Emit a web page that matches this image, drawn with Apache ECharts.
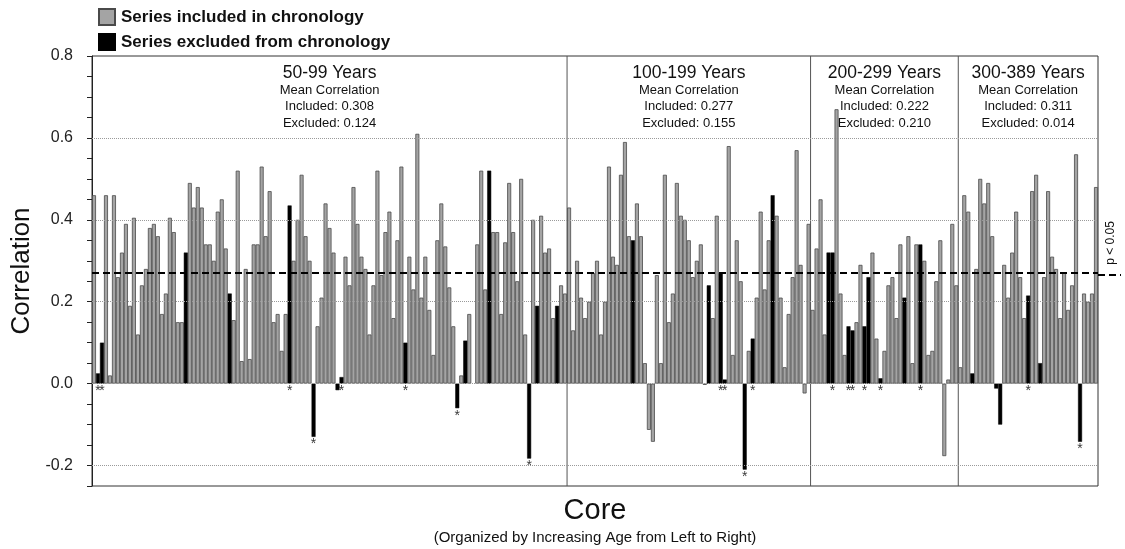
<!DOCTYPE html>
<html>
<head>
<meta charset="utf-8">
<script src="https://cdn.jsdelivr.net/npm/echarts@6/dist/echarts.min.js"></script>
<style>
html,body{margin:0;padding:0;background:#fff;}
#chart{width:1125px;height:549px;}
</style>
</head>
<body>
<div id="chart"></div>
<script>
// ---- DATA ----
// Section 1: 50-99 years (119 cores)
const sec1Values = [0.46,0.025,0.10,0.46,0.02,0.46,0.26,0.32,0.39,0.19,0.405,0.12,0.24,0.28,0.38,0.39,0.36,0.17,0.22,0.405,0.37,0.15,0.15,0.32,
  0.49,0.43,0.48,0.43,0.34,0.34,0.30,0.42,0.45,0.33,0.22,0.155,0.52,0.055,0.28,0.06,0.34,0.34,0.53,0.36,0.47,0.15,0.17,0.08,
  0.17,0.435,0.30,0.40,0.51,0.36,0.30,-0.13,0.14,0.21,0.44,0.38,0.32,-0.016,0.016,0.31,0.24,0.48,0.39,0.31,0.28,0.12,0.24,
  0.52,0.265,0.37,0.42,0.16,0.35,0.53,0.10,0.31,0.23,0.61,0.21,0.31,0.18,0.07,0.35,0.44,0.335,0.235,0.14,-0.06,0.02,0.105,0.17,
  null,0.34,0.52,0.23,0.52,0.37,0.37,0.17,0.345,0.49,0.37,0.25,0.50,0.12,-0.183,0.40,0.19,0.41,0.32,0.33,0.16,0.19,0.24,0.22];
const sec1Excluded = [2,3,24,35,50,56,62,63,79,92,94,100,110,112,117];
const sec1Starred  = [2,3,50,56,63,79,92,110];

// Section 2: 100-199 years (61 cores)
const sec2Values = [0.43,0.13,0.30,0.21,0.16,0.20,0.27,0.30,0.12,0.20,
  0.53,0.31,0.29,0.51,0.59,0.36,0.35,0.44,0.36,0.05,
  -0.113,-0.142,0.265,0.05,
  0.51,0.15,0.22,0.49,0.41,0.40,0.35,0.26,0.30,0.34,
  -0.003,0.24,0.16,0.41,0.27,0.01,0.58,0.07,0.35,0.25,
  -0.21,0.08,0.11,0.21,
  0.42,0.23,0.35,0.46,0.41,0.21,0.04,0.17,0.26,0.57,
  0.29,-0.024,0.39];
const sec2Excluded = [17,36,39,40,45,47,52];
const sec2Starred  = [39,40,45,47];

// Section 3: 200-299 years (37 cores)
const sec3Values = [0.18,0.33,0.45,0.12,0.32,0.32,0.67,0.22,0.07,0.14,
  0.13,0.15,0.29,0.14,0.26,0.32,0.11,0.013,0.08,0.24,
  0.26,0.16,0.34,0.21,0.36,0.05,0.34,0.34,0.30,0.07,
  0.08,0.25,0.35,-0.177,0.01,0.39,0.24];
const sec3Excluded = [5,6,10,11,14,15,18,24,28];
const sec3Starred  = [6,10,11,14,18,28];

// Section 4: 300-389 years (35 cores)
const sec4Values = [0.04,0.46,0.42,0.025,0.28,0.50,0.44,0.49,0.36,-0.012,
  -0.10,0.29,0.21,0.32,0.42,0.26,0.16,0.215,0.47,0.51,
  0.05,0.26,0.47,0.31,0.28,0.16,0.27,0.18,0.24,0.56,
  -0.142,0.22,0.20,0.22,0.48];
const sec4Excluded = [4,10,11,18,21,31];
const sec4Starred  = [18,31];

const sectionNames = ['50-99 Years','100-199 Years','200-299 Years','300-389 Years'];
const meanIncluded = ['0.308','0.277','0.222','0.311'];
const meanExcluded = ['0.124','0.155','0.210','0.014'];
const pThreshold = 0.265;
const yTicks = [0.8,0.6,0.4,0.2,0.0,-0.2];

// ---- BUILD ----
const secValues = [sec1Values,sec2Values,sec3Values,sec4Values];
const secExcl = [sec1Excluded,sec2Excluded,sec3Excluded,sec4Excluded];
const secStar = [sec1Starred,sec2Starred,sec3Starred,sec4Starred];
const values = [], excluded = [], starred = [], secStart = [];
secValues.forEach((arr,s)=>{
  secStart.push(values.length);
  arr.forEach((v,k)=>{
    values.push(v);
    excluded.push(secExcl[s].includes(k+1));
    starred.push(secStar[s].includes(k+1));
  });
});
const cats = values.map((v,i)=>String(i+1));
const inclData = values.map((v,i)=> excluded[i] ? null : v);
const exclData = values.map((v,i)=> excluded[i] ? v : null);
const starData = [];
values.forEach((v,i)=>{ if(starred[i]) starData.push([i, Math.min(v||0,0)]); });

const FONT = '"Liberation Sans", Arial, sans-serif';
const chart = echarts.init(document.getElementById('chart'), null, {renderer:'canvas'});
const option = {
  animation:false,
  textStyle:{fontFamily:FONT,color:'#111'},
  grid:{left:92,right:27,top:56,bottom:63,show:true,borderColor:'#333',borderWidth:1,backgroundColor:'transparent'},
  legend:{
    data:['Series included in chronology','Series excluded from chronology'],
    orient:'vertical',left:98,top:8,itemWidth:16,itemHeight:16,itemGap:7,padding:0,
    textStyle:{fontFamily:FONT,fontSize:17,fontWeight:'bold',color:'#111',padding:[0,0,0,1]},
    icon:'rect'
  },
  xAxis:{
    type:'category',data:cats,boundaryGap:true,
    axisLine:{show:false},axisTick:{show:false},axisLabel:{show:false},splitLine:{show:false},
    name:'Core',nameLocation:'middle',nameGap:10,
    nameTextStyle:{fontFamily:FONT,fontSize:29,color:'#111',verticalAlign:'top'}
  },
  yAxis:{
    type:'value',min:-0.25,max:0.8,interval:0.05,
    axisLine:{show:true,lineStyle:{color:'#222',width:1}},
    axisTick:{show:true,length:5,lineStyle:{color:'#222'}},
    axisLabel:{margin:19,fontSize:16,color:'#222',fontFamily:FONT,
      formatter:v=>{ const r=yTicks.find(t=>Math.abs(t-v)<1e-6); return r===undefined?'':r.toFixed(1); }},
    splitLine:{show:false},
    name:'Correlation',nameLocation:'middle',nameGap:52,
    nameTextStyle:{fontFamily:FONT,fontSize:26,color:'#111'}
  },
  series:[
    {type:'line',data:values.map(()=>null),z:1,silent:true,
     markLine:{silent:true,symbol:['none','none'],label:{show:false},
       lineStyle:{color:'#9a9a9a',type:'dotted',width:1},
       data:[{yAxis:0.6},{yAxis:0.4},{yAxis:0.2},{yAxis:0},{yAxis:-0.2}]}},
    {name:'Series included in chronology',type:'bar',data:inclData,barWidth:'100%',barGap:'-100%',z:3,
     itemStyle:{color:'#a4a4a4',borderColor:'#4a4a4a',borderWidth:0.8}},
    {name:'Series excluded from chronology',type:'bar',data:exclData,barWidth:'100%',barGap:'-100%',z:3,
     itemStyle:{color:'#000',borderColor:'#000',borderWidth:0.5}},
    {type:'line',data:values.map(()=>null),z:6,silent:true,
     markLine:{silent:true,symbol:['none','none'],label:{show:false},
       lineStyle:{color:'#000',type:[7,4],width:2},
       data:[{yAxis:pThreshold}]}},
    {type:'scatter',data:starData,symbolSize:1,z:7,silent:true,
     itemStyle:{color:'rgba(0,0,0,0)'},
     label:{show:true,formatter:'*',position:'bottom',distance:0,fontSize:14,color:'#000',fontFamily:FONT}}
  ]
};
chart.setOption(option);

// ---- decorations computed from the axes ----
const xc = i => chart.convertToPixel({xAxisIndex:0}, i);
const yc = v => chart.convertToPixel({yAxisIndex:0}, v);
const band = xc(1)-xc(0);
const leftEdge = xc(0)-band/2, rightEdge = xc(values.length-1)+band/2;
const yTop = yc(0.8), yBot = yc(-0.25);
const bounds = [leftEdge];
for(let s=1;s<secStart.length;s++){ bounds.push((xc(secStart[s]-1)+xc(secStart[s]))/2); }
bounds.push(rightEdge);
const g = [];
for(let s=1;s<secStart.length;s++){
  g.push({type:'line',shape:{x1:bounds[s],y1:yTop,x2:bounds[s],y2:yBot},style:{stroke:'#555',lineWidth:1},z:4,silent:true});
}
for(let s=0;s<sectionNames.length;s++){
  const cx=(bounds[s]+bounds[s+1])/2;
  const lines=[[sectionNames[s],17.5,73],['Mean Correlation',13,90],['Included: '+meanIncluded[s],13,106.5],['Excluded: '+meanExcluded[s],13,123]];
  lines.forEach(l=>g.push({type:'text',x:cx,y:l[2],z:8,silent:true,
    style:{text:l[0],fontSize:l[1],fontFamily:FONT,fill:'#111',align:'center',verticalAlign:'middle'}}));
}
const yp = yc(pThreshold);
g.push({type:'line',shape:{x1:rightEdge,y1:yp,x2:1121,y2:yp},style:{stroke:'#000',lineWidth:2,lineDash:[7,4]},z:6,silent:true});
g.push({type:'text',x:1111,y:243,rotation:Math.PI/2,z:8,silent:true,
  style:{text:'p < 0.05',fontSize:12,fontFamily:FONT,fill:'#111',align:'center',verticalAlign:'middle'}});
g.push({type:'text',x:(leftEdge+rightEdge)/2,y:538,z:8,silent:true,
  style:{text:'(Organized by Increasing Age from Left to Right)',fontSize:15,fontFamily:FONT,fill:'#111',align:'center',verticalAlign:'middle'}});
chart.setOption({graphic:g});
</script>
</body>
</html>
